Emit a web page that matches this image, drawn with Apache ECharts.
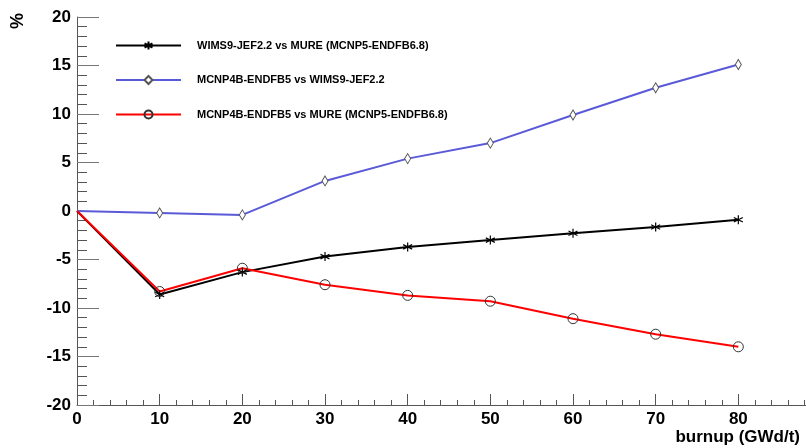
<!DOCTYPE html>
<html>
<head>
<meta charset="utf-8">
<script src="https://cdn.jsdelivr.net/npm/echarts@6/dist/echarts.min.js"></script>
<style>html,body{margin:0;padding:0;background:#fff}#c{width:806px;height:448px}</style>
</head>
<body>
<div id="c"></div>
<script>
var burnup = [0, 10, 20, 30, 40, 50, 60, 70, 80];
var wimsVsMure = [0, -8.6, -6.3, -4.7, -3.7, -3.0, -2.3, -1.65, -0.9];
var mcnpVsWims = [0, -0.2, -0.4, 3.1, 5.4, 7.0, 9.9, 12.7, 15.1];
var mcnpVsMure = [0, -8.3, -5.9, -7.6, -8.7, -9.3, -11.1, -12.7, -14.0];
var seriesNames = [
  'WIMS9-JEF2.2 vs MURE (MCNP5-ENDFB6.8)',
  'MCNP4B-ENDFB5 vs WIMS9-JEF2.2',
  'MCNP4B-ENDFB5 vs MURE (MCNP5-ENDFB6.8)'
];
var xTitle = 'burnup (GWd/t)';
var yTitle = '%';

function pts(vals) {
  return vals.map(function (v, i) {
    var d = { value: [burnup[i], v] };
    if (i === 0) d.symbol = 'none';
    return d;
  });
}

var star = 'path://M0,-10L0,10M-8.66,-5L8.66,5M-8.66,5L8.66,-5';
var FONT = 'Liberation Sans, Arial, sans-serif';

var chart = echarts.init(document.getElementById('c'), null, { renderer: 'canvas' });
chart.setOption({
  animation: false,
  backgroundColor: '#fff',
  grid: { left: 77, top: 17, right: -15, bottom: 43, outerBoundsMode: 'none', containLabel: false },
  legend: {
    orient: 'vertical',
    left: 115,
    top: 40,
    padding: 0,
    itemWidth: 65,
    itemHeight: 10,
    itemGap: 23.5,
    textStyle: { fontFamily: FONT, fontWeight: 'bold', fontSize: 11, color: '#000', padding: [0, 0, 0, 11] },
    data: seriesNames
  },
  xAxis: {
    type: 'value',
    min: 0, max: 90, interval: 10,
    axisLine: { show: true, onZero: false, lineStyle: { color: '#555', width: 1 } },
    axisTick: { show: true, inside: true, length: 11, lineStyle: { color: '#555' } },
    minorTick: { show: true, splitNumber: 5, length: 5, lineStyle: { color: '#555' } },
    splitLine: { show: false },
    axisLabel: { margin: 6, fontFamily: FONT, fontWeight: 'bold', fontSize: 17, color: '#000', showMaxLabel: false }
  },
  yAxis: {
    type: 'value',
    min: -20, max: 20, interval: 5,
    axisLine: { show: true, onZero: false, lineStyle: { color: '#555', width: 1 } },
    axisTick: { show: true, inside: true, length: 22, lineStyle: { color: '#777' } },
    minorTick: { show: true, splitNumber: 5, length: 10, lineStyle: { color: '#555' } },
    splitLine: { show: false },
    axisLabel: { margin: 6, fontFamily: FONT, fontWeight: 'bold', fontSize: 17, color: '#000' }
  },
  graphic: [{
    type: 'text', x: 18, y: 21, rotation: Math.PI / 2,
    style: { text: yTitle, font: 'bold 18px "Liberation Sans", Arial, sans-serif', fill: '#000', textAlign: 'center', textVerticalAlign: 'middle' }
  }, {
    type: 'text', x: 800, y: 437,
    style: { text: xTitle, font: 'bold 17px "Liberation Sans", Arial, sans-serif', fill: '#000', textAlign: 'right', textVerticalAlign: 'middle' }
  }],
  series: [
    {
      name: seriesNames[0], type: 'line', data: pts(wimsVsMure),
      symbol: star, symbolSize: 9, showAllSymbol: true,
      lineStyle: { color: '#000', width: 2 },
      itemStyle: { color: '#000', borderColor: '#000', borderWidth: 1.2 }
    },
    {
      name: seriesNames[1], type: 'line', data: pts(mcnpVsWims),
      symbol: 'diamond', symbolSize: [6, 10], showAllSymbol: true,
      lineStyle: { color: '#5a5ad8', width: 2 },
      itemStyle: { color: '#fff', borderColor: '#555', borderWidth: 1 }
    },
    {
      name: seriesNames[2], type: 'line', data: pts(mcnpVsMure),
      symbol: 'circle', symbolSize: 10, showAllSymbol: true,
      lineStyle: { color: '#ff0000', width: 2 },
      itemStyle: { color: 'rgba(255,255,255,0)', borderColor: '#333', borderWidth: 1 }
    }
  ]
});
</script>
</body>
</html>
